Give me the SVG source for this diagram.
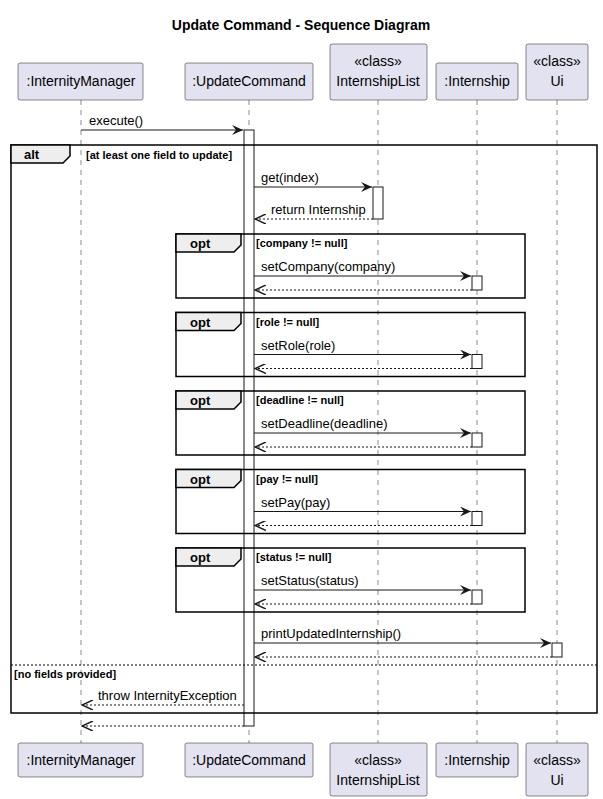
<svg xmlns="http://www.w3.org/2000/svg" width="603" height="799" viewBox="0 0 603 799">
<style>
text{font-family:"Liberation Sans",Arial,sans-serif;fill:#000}
.p{fill:#E2E2F0;stroke:#181818;stroke-width:0.5}
.pt{font-size:14px;text-anchor:middle}
.ll{stroke:#181818;stroke-width:0.5;stroke-dasharray:5,5}
.act{fill:#fff;stroke:#181818;stroke-width:1}
.fr{fill:none;stroke:#000;stroke-width:1.5}
.tab{fill:#EEE;stroke:#000;stroke-width:1.5}
.tt{font-size:13px;font-weight:bold}
.g{font-size:11px;font-weight:bold}
.m{stroke:#181818;stroke-width:1;fill:none}
.r{stroke:#181818;stroke-width:1;fill:none;stroke-dasharray:2,2}
.ml{font-size:13px}
</style>
<defs>
<marker id="a" viewBox="0 0 12 10" refX="11" refY="5" markerWidth="12" markerHeight="10" orient="auto" markerUnits="userSpaceOnUse"><path d="M0,0 L11,5 L0,10 L4,5 Z" fill="#181818"/></marker>
<marker id="o" viewBox="0 0 12 10" refX="11" refY="5" markerWidth="12" markerHeight="10" orient="auto" markerUnits="userSpaceOnUse"><path d="M0,0 L11,5 L0,10" fill="none" stroke="#181818" stroke-width="1.5"/></marker>
</defs>
<text x="301" y="30" text-anchor="middle" style="font-size:14px;font-weight:bold">Update Command - Sequence Diagram</text>
<g id="lifelines">
<line class="ll" x1="81" y1="100" x2="81" y2="743"/>
<line class="ll" x1="249" y1="100" x2="249" y2="743"/>
<line class="ll" x1="378" y1="100" x2="378" y2="743"/>
<line class="ll" x1="477" y1="100" x2="477" y2="743"/>
<line class="ll" x1="557" y1="100" x2="557" y2="743"/>
</g>
<g id="p-im"><rect class="p" x="18" y="63" width="125" height="37" rx="2"/><text class="pt" x="81" y="86">:InternityManager</text>
<rect class="p" x="18" y="743" width="125" height="34" rx="2"/><text class="pt" x="81" y="765">:InternityManager</text></g>
<g id="p-uc"><rect class="p" x="185" y="63" width="128" height="37" rx="2"/><text class="pt" x="249" y="86">:UpdateCommand</text>
<rect class="p" x="185" y="743" width="128" height="34" rx="2"/><text class="pt" x="249" y="765">:UpdateCommand</text></g>
<g id="p-il"><rect class="p" x="330" y="44" width="97" height="56" rx="2"/><text class="pt" x="378" y="66">«class»</text><text class="pt" x="378" y="86">InternshipList</text>
<rect class="p" x="330" y="743" width="97" height="53" rx="2"/><text class="pt" x="378" y="765">«class»</text><text class="pt" x="378" y="785">InternshipList</text></g>
<g id="p-in"><rect class="p" x="436" y="63" width="82" height="37" rx="2"/><text class="pt" x="477" y="86">:Internship</text>
<rect class="p" x="436" y="743" width="82" height="34" rx="2"/><text class="pt" x="477" y="765">:Internship</text></g>
<g id="p-ui"><rect class="p" x="526" y="44" width="62" height="56" rx="2"/><text class="pt" x="557" y="66">«class»</text><text class="pt" x="557" y="86">Ui</text>
<rect class="p" x="526" y="743" width="62" height="53" rx="2"/><text class="pt" x="557" y="765">«class»</text><text class="pt" x="557" y="785">Ui</text></g>
<g id="activations">
<rect class="act" x="244" y="130" width="10" height="596"/>
<rect class="act" x="373" y="187" width="10" height="32"/>
<rect class="act" x="472" y="276" width="10" height="14"/>
<rect class="act" x="472" y="354.5" width="10" height="14"/>
<rect class="act" x="472" y="433" width="10" height="14"/>
<rect class="act" x="472" y="511.5" width="10" height="14"/>
<rect class="act" x="472" y="590" width="10" height="14"/>
<rect class="act" x="552" y="643" width="10" height="14"/>
</g>
<g id="frames">
<rect class="fr" x="11" y="145" width="586" height="568"/>
<path class="tab" d="M11,145 H70 V156 L63,163 H11 Z"/>
<text class="tt" x="24" y="159">alt</text>
<text class="g" x="86" y="159">[at least one field to update]</text>
<line x1="11" y1="665" x2="597" y2="665" stroke="#000" stroke-width="1" stroke-dasharray="2,2"/>
<text class="g" x="14" y="678">[no fields provided]</text>
<g id="opt1"><rect class="fr" x="176" y="234" width="349" height="64"/><path class="tab" d="M176,234 H241 V245 L234,252 H176 Z"/><text class="tt" x="190" y="248">opt</text><text class="g" x="256" y="247">[company != null]</text></g>
<g id="opt2"><rect class="fr" x="176" y="312.5" width="349" height="64"/><path class="tab" d="M176,312.5 H241 V323.5 L234,330.5 H176 Z"/><text class="tt" x="190" y="326.5">opt</text><text class="g" x="256" y="325.5">[role != null]</text></g>
<g id="opt3"><rect class="fr" x="176" y="391" width="349" height="64"/><path class="tab" d="M176,391 H241 V402 L234,409 H176 Z"/><text class="tt" x="190" y="405">opt</text><text class="g" x="256" y="404">[deadline != null]</text></g>
<g id="opt4"><rect class="fr" x="176" y="469.5" width="349" height="64"/><path class="tab" d="M176,469.5 H241 V480.5 L234,487.5 H176 Z"/><text class="tt" x="190" y="483.5">opt</text><text class="g" x="256" y="482.5">[pay != null]</text></g>
<g id="opt5"><rect class="fr" x="176" y="548" width="349" height="64"/><path class="tab" d="M176,548 H241 V559 L234,566 H176 Z"/><text class="tt" x="190" y="562">opt</text><text class="g" x="256" y="561">[status != null]</text></g>
</g>
<g id="connectors">
<line class="m" x1="81" y1="130" x2="243" y2="130" marker-end="url(#a)"/><text class="ml" x="89" y="125">execute()</text>
<line class="m" x1="254" y1="187" x2="372" y2="187" marker-end="url(#a)"/><text class="ml" x="261" y="182">get(index)</text>
<line class="r" x1="373" y1="219" x2="255" y2="219" marker-end="url(#o)"/><text class="ml" x="271" y="214">return Internship</text>
<line class="m" x1="254" y1="276" x2="471" y2="276" marker-end="url(#a)"/><text class="ml" x="261" y="271">setCompany(company)</text>
<line class="r" x1="472" y1="290" x2="255" y2="290" marker-end="url(#o)"/>
<line class="m" x1="254" y1="354.5" x2="471" y2="354.5" marker-end="url(#a)"/><text class="ml" x="261" y="349.5">setRole(role)</text>
<line class="r" x1="472" y1="368.5" x2="255" y2="368.5" marker-end="url(#o)"/>
<line class="m" x1="254" y1="433" x2="471" y2="433" marker-end="url(#a)"/><text class="ml" x="261" y="428">setDeadline(deadline)</text>
<line class="r" x1="472" y1="447" x2="255" y2="447" marker-end="url(#o)"/>
<line class="m" x1="254" y1="511.5" x2="471" y2="511.5" marker-end="url(#a)"/><text class="ml" x="261" y="506.5">setPay(pay)</text>
<line class="r" x1="472" y1="525.5" x2="255" y2="525.5" marker-end="url(#o)"/>
<line class="m" x1="254" y1="590" x2="471" y2="590" marker-end="url(#a)"/><text class="ml" x="261" y="585">setStatus(status)</text>
<line class="r" x1="472" y1="604" x2="255" y2="604" marker-end="url(#o)"/>
<line class="m" x1="254" y1="643" x2="551" y2="643" marker-end="url(#a)"/><text class="ml" x="261" y="638">printUpdatedInternship()</text>
<line class="r" x1="552" y1="657" x2="255" y2="657" marker-end="url(#o)"/>
<line class="r" x1="244" y1="705" x2="82" y2="705" marker-end="url(#o)"/><text class="ml" x="98" y="700">throw InternityException</text>
<line class="r" x1="244" y1="726" x2="82" y2="726" marker-end="url(#o)"/>
</g>
</svg>
